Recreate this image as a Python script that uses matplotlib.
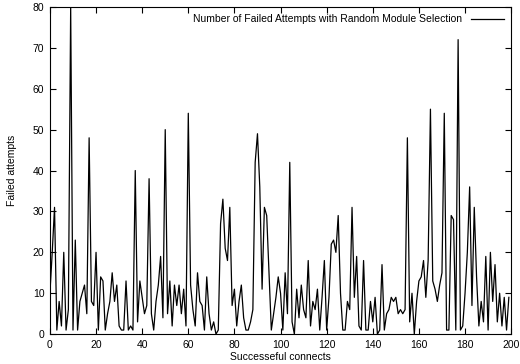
import matplotlib
matplotlib.use("Agg")
from matplotlib import pyplot as plt

plt.rcParams['font.family'] = ['Liberation Sans', 'DejaVu Sans']

# failed attempts before each successful connect
failed_attempts = [
    10, 20, 31, 1, 8, 2, 20, 1, 6, 80,
    1, 23, 1, 8, 10, 12, 5, 48, 8, 7,
    20, 1, 14, 13, 1, 5, 8, 15, 8, 12,
    2, 1, 1, 13, 1, 2, 1, 40, 3, 13,
    9, 5, 7, 38, 5, 1, 8, 12, 19, 4,
    50, 5, 13, 2, 12, 7, 12, 5, 11, 2,
    54, 12, 6, 2, 15, 8, 7, 1, 14, 5,
    1, 3, 0, 1, 27, 33, 21, 18, 31, 7,
    11, 2, 8, 12, 4, 1, 1, 3, 6, 42,
    49, 36, 11, 31, 29, 15, 1, 5, 9, 14,
    10, 1, 15, 5, 42, 3, 0, 11, 4, 12,
    6, 4, 18, 2, 8, 6, 11, 1, 9, 18,
    1, 9, 22, 23, 20, 29, 10, 1, 1, 8,
    6, 31, 9, 19, 2, 1, 18, 1, 1, 8,
    3, 9, 0, 1, 17, 1, 5, 6, 9, 8,
    9, 5, 6, 5, 6, 48, 3, 10, 0, 8,
    13, 14, 18, 9, 18, 55, 13, 11, 8, 12,
    15, 54, 1, 1, 29, 28, 1, 72, 1, 2,
    10, 20, 36, 7, 31, 14, 2, 8, 3, 19,
    1, 20, 8, 17, 3, 10, 2, 9, 1, 9,
]
connects = list(range(len(failed_attempts)))

fig = plt.figure(figsize=(5.2, 3.64), dpi=100)
ax = fig.add_axes([0.096, 0.082, 0.887, 0.899])

ax.plot(connects, failed_attempts, color='black', linewidth=0.9,
        label='Number of Failed Attempts with Random Module Selection')

ax.set_xlim(0, 200)
ax.set_ylim(0, 80)
ax.set_xticks(range(0, 201, 20))
ax.set_yticks(range(0, 81, 10))
ax.tick_params(direction='in', length=4, width=0.8, top=True, right=True, labelsize=7.5, pad=4)
for s in ax.spines.values():
    s.set_linewidth(0.8)

ax.set_xlabel('Successeful connects', fontsize=7.5, labelpad=2)
ax.set_ylabel('Failed attempts', fontsize=7.5, labelpad=11)

ax.legend(loc='upper right', frameon=False, markerfirst=False, fontsize=7.5,
          handlelength=3.2, handletextpad=0.8, borderaxespad=0.3)

fig.savefig('out.png', dpi=100)
